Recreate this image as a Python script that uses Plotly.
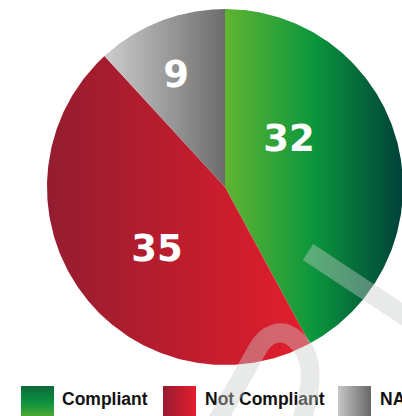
import numpy as np
import plotly.graph_objects as go

# ---- data ----
categories = ["Compliant", "Not Compliant", "NA"]
values = [32, 35, 9]
value_labels = ["32", "35", "9"]

# ---- styling ----
W, H = 402, 416
CX, CY, R = 225, 187, 178

slice_scales = [
    [[0, "#60b432"], [0.5, "#0b963c"], [1, "#00403a"]],
    [[0, "#941c2f"], [1, "#e41e2c"]],
    [[0, "#cdcdcd"], [1, "#6c6c6c"]],
]
legend_scales = [
    ("vertical", [[0, "#0c6a3a"], [0.5, "#0b923e"], [1, "#5cae32"]]),
    ("horizontal", [[0, "#971b30"], [1, "#e41e2c"]]),
    ("horizontal", [[0, "#c6c6c6"], [1, "#686868"]]),
]
label_pos = [(289, 142), (157, 252), (176, 78)]
legend_box_x = [21, 163, 338]
legend_text_x = [62, 205, 380]
LEG_TOP, LEG_SIZE, LEG_TEXT_Y = 386, 33, 401

fig = go.Figure()

# pie wedges drawn as gradient-filled polygons
total = sum(values)
cum = 0.0
for name, v, cs in zip(categories, values, slice_scales):
    a0 = cum / total * 2 * np.pi
    a1 = (cum + v) / total * 2 * np.pi
    cum += v
    t = np.linspace(a0, a1, 240)
    xs = np.concatenate([[CX], CX + R * np.sin(t), [CX]])
    ys = np.concatenate([[CY], CY - R * np.cos(t), [CY]])
    fig.add_trace(go.Scatter(
        x=xs, y=ys, mode="lines", fill="toself", line=dict(width=0),
        fillgradient=dict(type="horizontal", colorscale=cs),
        name=name, hoverinfo="skip", showlegend=False,
    ))

# value labels
fig.add_trace(go.Scatter(
    x=[p[0] for p in label_pos], y=[p[1] for p in label_pos],
    mode="text", text=value_labels,
    textfont=dict(family="DejaVu Sans", size=37, color="white", weight="bold"),
    textposition="middle center", hoverinfo="skip", showlegend=False,
))

# legend boxes
for bx, (gtype, cs) in zip(legend_box_x, legend_scales):
    x0, x1 = bx, bx + LEG_SIZE
    y0, y1 = LEG_TOP, LEG_TOP + LEG_SIZE
    grad = dict(type=gtype, colorscale=cs)
    if gtype == "vertical":
        grad.update(start=y0, stop=y1)
    else:
        grad.update(start=x0, stop=x1)
    fig.add_trace(go.Scatter(
        x=[x0, x1, x1, x0, x0], y=[y0, y0, y1, y1, y0],
        mode="lines", fill="toself", line=dict(width=0),
        fillgradient=grad, hoverinfo="skip", showlegend=False,
    ))

# legend labels
fig.add_trace(go.Scatter(
    x=legend_text_x, y=[LEG_TEXT_Y] * len(categories),
    mode="text", text=categories, textposition="middle right",
    textfont=dict(family="Liberation Sans", size=17.5, color="#111111", weight="bold"),
    hoverinfo="skip", showlegend=False,
))

# translucent watermark strokes
wm = "rgba(200,202,202,0.42)"
fig.add_shape(type="line", x0=308, y0=252, x1=420, y1=326,
              xref="x", yref="y", layer="above", line=dict(color=wm, width=19))
fig.add_shape(type="path",
              path="M 215 425 L 257 350 C 266 333 282 327 296 340 "
                   "C 312 354 316 380 300 425",
              xref="x", yref="y", layer="above", line=dict(color=wm, width=19))

fig.update_xaxes(range=[0, W], visible=False, fixedrange=True)
fig.update_yaxes(range=[H, 0], visible=False, fixedrange=True)
fig.update_layout(
    width=W, height=H, margin=dict(l=0, r=0, t=0, b=0),
    paper_bgcolor="white", plot_bgcolor="white", showlegend=False,
)

fig.write_html("out.html")
